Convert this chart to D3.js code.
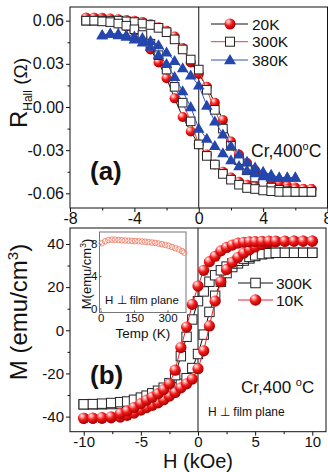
<!DOCTYPE html>
<html><head><meta charset="utf-8">
<script src="https://cdn.jsdelivr.net/npm/d3@7"></script>
<style>
body{margin:0;background:#fff}
svg{display:block}
text{font-family:"Liberation Sans",Arial,Helvetica,sans-serif;fill:#111}
</style></head><body><div id="chart"></div>
<script>
// ---------- Panel (a): Hall resistance ----------
const hA = [-7,-6.5,-6,-5.5,-5,-4.5,-4,-3.5,-3,-2.5,-2,-1.5,-1,-0.5,0,0.5,1,1.5,2,2.5,3,3.5,4,4.5,5,5.5,6,6.5,7];
const r20K_up   = [0.062,0.062,0.062,0.0615,0.061,0.0605,0.060,0.059,0.0575,0.0555,0.053,0.049,0.041,0.031,0.023,0.014,0.003,-0.009,-0.024,-0.033,-0.039,-0.044,-0.048,-0.051,-0.053,-0.055,-0.056,-0.057,-0.057];
const r20K_down = [0.062,0.062,0.061,0.060,0.058,0.056,0.053,0.048,0.040,0.031,0.020,0.006,-0.007,-0.017,-0.026,-0.033,-0.040,-0.045,-0.049,-0.052,-0.054,-0.055,-0.056,-0.0565,-0.057,-0.057,-0.057,-0.057,-0.057];
const r300K_up   = [0.060,0.060,0.060,0.060,0.060,0.0595,0.059,0.058,0.057,0.055,0.052,0.047,0.040,0.033,0.026,0.012,-0.002,-0.015,-0.027,-0.037,-0.044,-0.049,-0.053,-0.056,-0.0575,-0.0585,-0.059,-0.059,-0.059];
const r300K_down = [0.060,0.060,0.0595,0.059,0.058,0.0565,0.054,0.050,0.044,0.036,0.026,0.014,0.003,-0.010,-0.026,-0.034,-0.040,-0.0465,-0.0505,-0.054,-0.0563,-0.057,-0.058,-0.0585,-0.059,-0.059,-0.059,-0.059,-0.059];
const hA380 = [-6,-5.5,-5,-4.5,-4,-3.5,-3,-2.5,-2,-1.5,-1,-0.5,0,0.5,1,1.5,2,2.5,3,3.5,4,4.5,5,5.5,6];
const r380K_up   = [0.050,0.051,0.051,0.050,0.049,0.048,0.046,0.043,0.038,0.032,0.027,0.022,0.015,0.001,-0.010,-0.019,-0.027,-0.033,-0.038,-0.042,-0.045,-0.047,-0.049,-0.049,-0.049];
const r380K_down = [0.050,0.051,0.050,0.049,0.047,0.045,0.042,0.036,0.030,0.021,0.011,0.000,-0.015,-0.022,-0.027,-0.032,-0.037,-0.041,-0.044,-0.046,-0.048,-0.049,-0.049,-0.049,-0.049];
const legendA = ["20K","300K","380K"];
const xTicksA = [-8,-4,0,4,8];
const yTicksA = [-0.06,-0.03,0,0.03,0.06];

// ---------- Panel (b): magnetization ----------
const hB = [-10,-9.2,-8.4,-7.6,-6.8,-6.2,-5.6,-5,-4.5,-4,-3.5,-3,-2.5,-2,-1.5,-1,-0.5,0,0.5,1,1.5,2,2.5,3,3.5,4,4.5,5,5.6,6.2,6.8,7.6,8.4,9.2,10];
const m10K_down = [-40.8,-40.7,-40.5,-40.1,-38.6,-37.4,-35.8,-34.0,-32.4,-31.0,-29.4,-27.5,-24.8,-18.5,-8,1.5,12,20.5,27.8,31.8,34.3,36.8,38.4,39.5,40.4,40.8,41.0,41.1,41.2,41.3,41.3,41.3,41.3,41.3,41.3];
const m10K_up   = [-40.8,-40.8,-40.8,-40.6,-40.2,-39.4,-38.4,-37,-35.8,-34.8,-33.6,-32.2,-30.5,-28.8,-26.7,-24.8,-22.6,-17.8,-9.5,2,13.5,22.5,28.2,31.5,33.8,35.8,37.3,38.6,39.8,40.6,41.0,41.2,41.3,41.3,41.3];
const m300K_down = [-34.3,-34.2,-34.0,-33.7,-33.3,-33.0,-32.2,-31.2,-30.3,-29.2,-28.0,-26.6,-24.5,-20.8,-12,-3,5,13.5,18,22.5,25.5,27.8,29.5,31,32.2,33.2,34,34.7,35.3,35.7,35.9,35.9,35.9,35.9,35.9];
const m300K_up   = [-34.3,-34.3,-34.3,-34.2,-34.0,-33.7,-33.3,-32.7,-32.1,-31.4,-30.5,-29.4,-28.0,-26.5,-24.8,-22.2,-17.5,-11,-2,8.5,16,22.5,26.5,29.3,31,32.3,33.3,34.4,35.3,35.7,35.9,35.9,35.9,35.9,35.9];
const legendB = ["300K","10K"];
const xTicksB = [-10,-5,0,5,10];
const yTicksB = [-40,-20,0,20,40];

// ---------- Inset: M vs temperature ----------
const tempK = [5,20,35,50,65,80,95,110,125,140,155,170,185,200,215,230,245,260,275,290,305,320,335,350,365,375];
const mTemp = [8.05,8.3,8.45,8.5,8.5,8.45,8.42,8.4,8.38,8.35,8.33,8.3,8.28,8.25,8.2,8.15,8.1,8.02,7.95,7.85,7.75,7.6,7.45,7.3,7.1,6.9];
const xTicksIn = [0,150,300];
const yTicksIn = [0,4,8];

// ======================================================
const W = 328, H = 472;
const svg = d3.select("#chart").append("svg").attr("width", W).attr("height", H);
const defs = svg.append("defs");
const grad = defs.append("radialGradient").attr("id","sph")
  .attr("cx","40%").attr("cy","35%").attr("r","62%").attr("fx","32%").attr("fy","26%");
[[0,"#ffffff"],[0.22,"#ffa0a0"],[0.55,"#f21c1c"],[1,"#b00000"]]
  .forEach(([o,c]) => grad.append("stop").attr("offset",o).attr("stop-color",c));

const hyph = s => s.replace("\u2212","-");

function drawSphere(g, x, y, r){
  g.append("circle").attr("cx",x).attr("cy",y).attr("r",r).attr("fill","url(#sph)");
}
function drawSquare(g, x, y, s){
  g.append("rect").attr("x",x-s/2).attr("y",y-s/2).attr("width",s).attr("height",s)
   .attr("fill","#fff").attr("stroke","#222").attr("stroke-width",1);
}
function drawTri(g, x, y, size){
  g.append("path").attr("d", d3.symbol(d3.symbolTriangle, size)()).attr("transform",`translate(${x},${y+0.8})`)
   .attr("fill","#2446ad");
}

function axes(g, x, y, xt, xm, yt, ym, fx, fy, left, top, right, bottom, padX, fs){
  g.append("g").attr("transform",`translate(0,${bottom})`)
    .call(d3.axisBottom(x).tickValues(xt).tickSize(4).tickPadding(padX).tickFormat(fx));
  g.append("g").attr("transform",`translate(0,${bottom})`)
    .call(d3.axisBottom(x).tickValues(xm).tickSize(2.5).tickFormat(""));
  g.append("g").attr("transform",`translate(${left},0)`)
    .call(d3.axisLeft(y).tickValues(yt).tickSize(4).tickPadding(2).tickFormat(fy));
  g.append("g").attr("transform",`translate(${left},0)`)
    .call(d3.axisLeft(y).tickValues(ym).tickSize(2.5).tickFormat(""));
  g.selectAll(".domain").remove();
  g.selectAll(".tick line").attr("stroke","#111");
  g.selectAll(".tick text").attr("font-size",fs).attr("fill","#111").style("font-family",'"Liberation Sans",Arial,sans-serif');
  g.append("rect").attr("x",left).attr("y",top).attr("width",right-left).attr("height",bottom-top)
    .attr("fill","none").attr("stroke","#111").attr("stroke-width",1);
  g.append("line").attr("x1",x(0)).attr("x2",x(0)).attr("y1",top).attr("y2",bottom)
    .attr("stroke","#111").attr("stroke-width",1);
}

// ---------------- Panel A ----------------
{
  const L=70, R=327.5, T=7, B=208;
  const x = d3.scaleLinear([-8,8],[L,R]);
  const y = d3.scaleLinear([-0.0702,0.0695],[B,T]);
  const g = svg.append("g");
  axes(g, x, y, xTicksA, [-6,-2,2,6], yTicksA, [-0.045,-0.015,0.015,0.045],
       d => hyph(d3.format("d")(d)),
       d => (d===0 ? "0.00" : hyph(d3.format(".2f")(d))), L, T, R, B, 1, 16);
  const line = d3.line().x(d=>x(d[0])).y(d=>y(d[1]));
  const series = [
    {h:hA, up:r20K_up, down:r20K_down, col:"#111", mk:"sph"},
    {h:hA, up:r300K_up, down:r300K_down, col:"#e8402a", mk:"sq"},
    {h:hA380, up:r380K_up, down:r380K_down, col:"#2f52c0", mk:"tri"}
  ];
  series.forEach(s => {
    const a = s.h.map((h,i)=>[h,s.up[i]]), b = s.h.map((h,i)=>[h,s.down[i]]);
    g.append("path").attr("d",line(a)).attr("fill","none").attr("stroke",s.col).attr("stroke-width",1);
    g.append("path").attr("d",line(b)).attr("fill","none").attr("stroke",s.col).attr("stroke-width",1);
    const mg = g.append("g");
    a.concat(b).forEach(p => {
      const px=x(p[0]), py=y(p[1]);
      if(s.mk==="sph") drawSphere(mg,px,py,5);
      else if(s.mk==="sq") drawSquare(mg,px,py,8.6);
      else drawTri(mg,px,py,58);
    });
  });
  // legend
  const ly=[24,41.7,60], cols=["#111","#e8402a","#2f52c0"];
  legendA.forEach((t,i)=>{
    g.append("line").attr("x1",211).attr("x2",248).attr("y1",ly[i]).attr("y2",ly[i]).attr("stroke",cols[i]).attr("stroke-width",1);
    if(i===0) drawSphere(g,230,ly[i],5.5); else if(i===1) drawSquare(g,230,ly[i],9); else drawTri(g,230,ly[i],62);
    g.append("text").attr("x",252).attr("y",ly[i]+5.5).attr("font-size",15.5).text(t);
  });
  g.append("text").attr("x",90).attr("y",180).attr("font-size",26).attr("font-weight","bold").text("(a)");
  const c = g.append("text").attr("x",251).attr("y",157).attr("font-size",17.5);
  c.append("tspan").text("Cr,400");
  c.append("tspan").attr("font-size",11).attr("dy",-7).text("o");
  c.append("tspan").attr("dy",7).text("C");
  // y title
  const yt = svg.append("text").attr("transform","translate(27,93) rotate(-90)").attr("text-anchor","middle");
  yt.append("tspan").attr("font-size",24).text("R");
  yt.append("tspan").attr("font-size",12).attr("dy",5).text("Hall");
  yt.append("tspan").attr("font-size",19).attr("dy",-5).text(" (\u03A9)");
}

// ---------------- Panel B ----------------
{
  const L=70, R=326, T=228, B=431.7;
  const x = d3.scaleLinear([-11.2,11.2],[L,R]);
  const y = d3.scaleLinear([-47,47.4],[B,T]);
  const g = svg.append("g");
  axes(g, x, y, xTicksB, [-7.5,-2.5,2.5,7.5], yTicksB, [-30,-10,10,30],
       d => hyph(d3.format("d")(d)), d => hyph(d3.format("d")(d)), L, T, R, B, 0.5, 15);
  const series = [
    {up:m300K_up, down:m300K_down, col:"#111", mk:"sq"},
    {up:m10K_up, down:m10K_down, col:"#e8202a", mk:"sph"}
  ];
  const line = d3.line().x(d=>x(d[0])).y(d=>y(d[1]));
  series.forEach(s => {
    const a = hB.map((h,i)=>[h,s.up[i]]), b = hB.map((h,i)=>[h,s.down[i]]);
    g.append("path").attr("d",line(a)).attr("fill","none").attr("stroke",s.col).attr("stroke-width",1);
    g.append("path").attr("d",line(b)).attr("fill","none").attr("stroke",s.col).attr("stroke-width",1);
    a.concat(b).forEach(p=>{
      if(s.mk==="sph") drawSphere(g,x(p[0]),y(p[1]),5.6); else drawSquare(g,x(p[0]),y(p[1]),9.4);
    });
  });
  const ly=[283,300], cols=["#111","#e8202a"];
  legendB.forEach((t,i)=>{
    g.append("line").attr("x1",238).attr("x2",273).attr("y1",ly[i]).attr("y2",ly[i]).attr("stroke",cols[i]).attr("stroke-width",1);
    if(i===0) drawSquare(g,255.5,ly[i],9.5); else drawSphere(g,255.5,ly[i],5.8);
    g.append("text").attr("x",276).attr("y",ly[i]+5.5).attr("font-size",15.5).text(t);
  });
  g.append("text").attr("x",90).attr("y",384).attr("font-size",26).attr("font-weight","bold").text("(b)");
  const c = g.append("text").attr("x",241).attr("y",393).attr("font-size",17);
  c.append("tspan").text("Cr,400 ");
  c.append("tspan").attr("font-size",11).attr("dy",-7).text("o");
  c.append("tspan").attr("dy",7).text("C");
  g.append("text").attr("x",208).attr("y",415.5).attr("font-size",12).text("H \u22A5 film plane");
  // titles
  const yt = svg.append("text").attr("transform","translate(27,312) rotate(-90)").attr("text-anchor","middle").attr("font-size",24);
  yt.append("tspan").text("M (emu/cm");
  yt.append("tspan").attr("font-size",15).attr("dy",-9).text("3");
  yt.append("tspan").attr("dy",9).text(")");
  svg.append("text").attr("x",198).attr("y",467.5).attr("text-anchor","middle").attr("font-size",20).text("H (kOe)");

  // ---------- inset ----------
  const iL=99.5, iR=186, iT=232, iB=312.5;
  const xi = d3.scaleLinear([-5,383],[iL,iR]);
  const yi = d3.scaleLinear([-0.5,9.45],[iB,iT]);
  const gi = svg.append("g");
  gi.append("rect").attr("x",iL).attr("y",iT).attr("width",iR-iL).attr("height",iB-iT).attr("fill","#fff").attr("stroke","#777").attr("stroke-width",1);
  gi.append("g").attr("transform",`translate(0,${iB})`)
    .call(d3.axisBottom(xi).tickValues(xTicksIn).tickSize(-2).tickPadding(1.5).tickFormat(d3.format("d")));
  gi.append("g").attr("transform",`translate(${iL},0)`)
    .call(d3.axisLeft(yi).tickValues(yTicksIn).tickSize(-2).tickPadding(2).tickFormat(d3.format("d")));
  gi.selectAll(".domain").remove();
  gi.selectAll(".tick line").attr("stroke","#555");
  gi.selectAll(".tick text").attr("font-size",11.5).attr("fill","#111").style("font-family",'"Liberation Sans",Arial,sans-serif');
  tempK.forEach((t,i)=>{
    gi.append("circle").attr("cx",xi(t)).attr("cy",yi(mTemp[i])).attr("r",2.8)
      .attr("fill","none").attr("stroke","#f0806a").attr("stroke-width",0.9);
  });
  gi.append("text").attr("x",105).attr("y",304).attr("font-size",11.5).text("H \u22A5 film plane");
  gi.append("text").attr("x",143).attr("y",337.5).attr("text-anchor","middle").attr("font-size",13.5).text("Temp (K)");
  const it = gi.append("text").attr("transform","translate(91,274) rotate(-90)").attr("text-anchor","middle").attr("font-size",13);
  it.append("tspan").text("M(emu/cm");
  it.append("tspan").attr("font-size",8.5).attr("dy",-5).text("3");
  it.append("tspan").attr("dy",5).text(")");
}
</script></body></html>
